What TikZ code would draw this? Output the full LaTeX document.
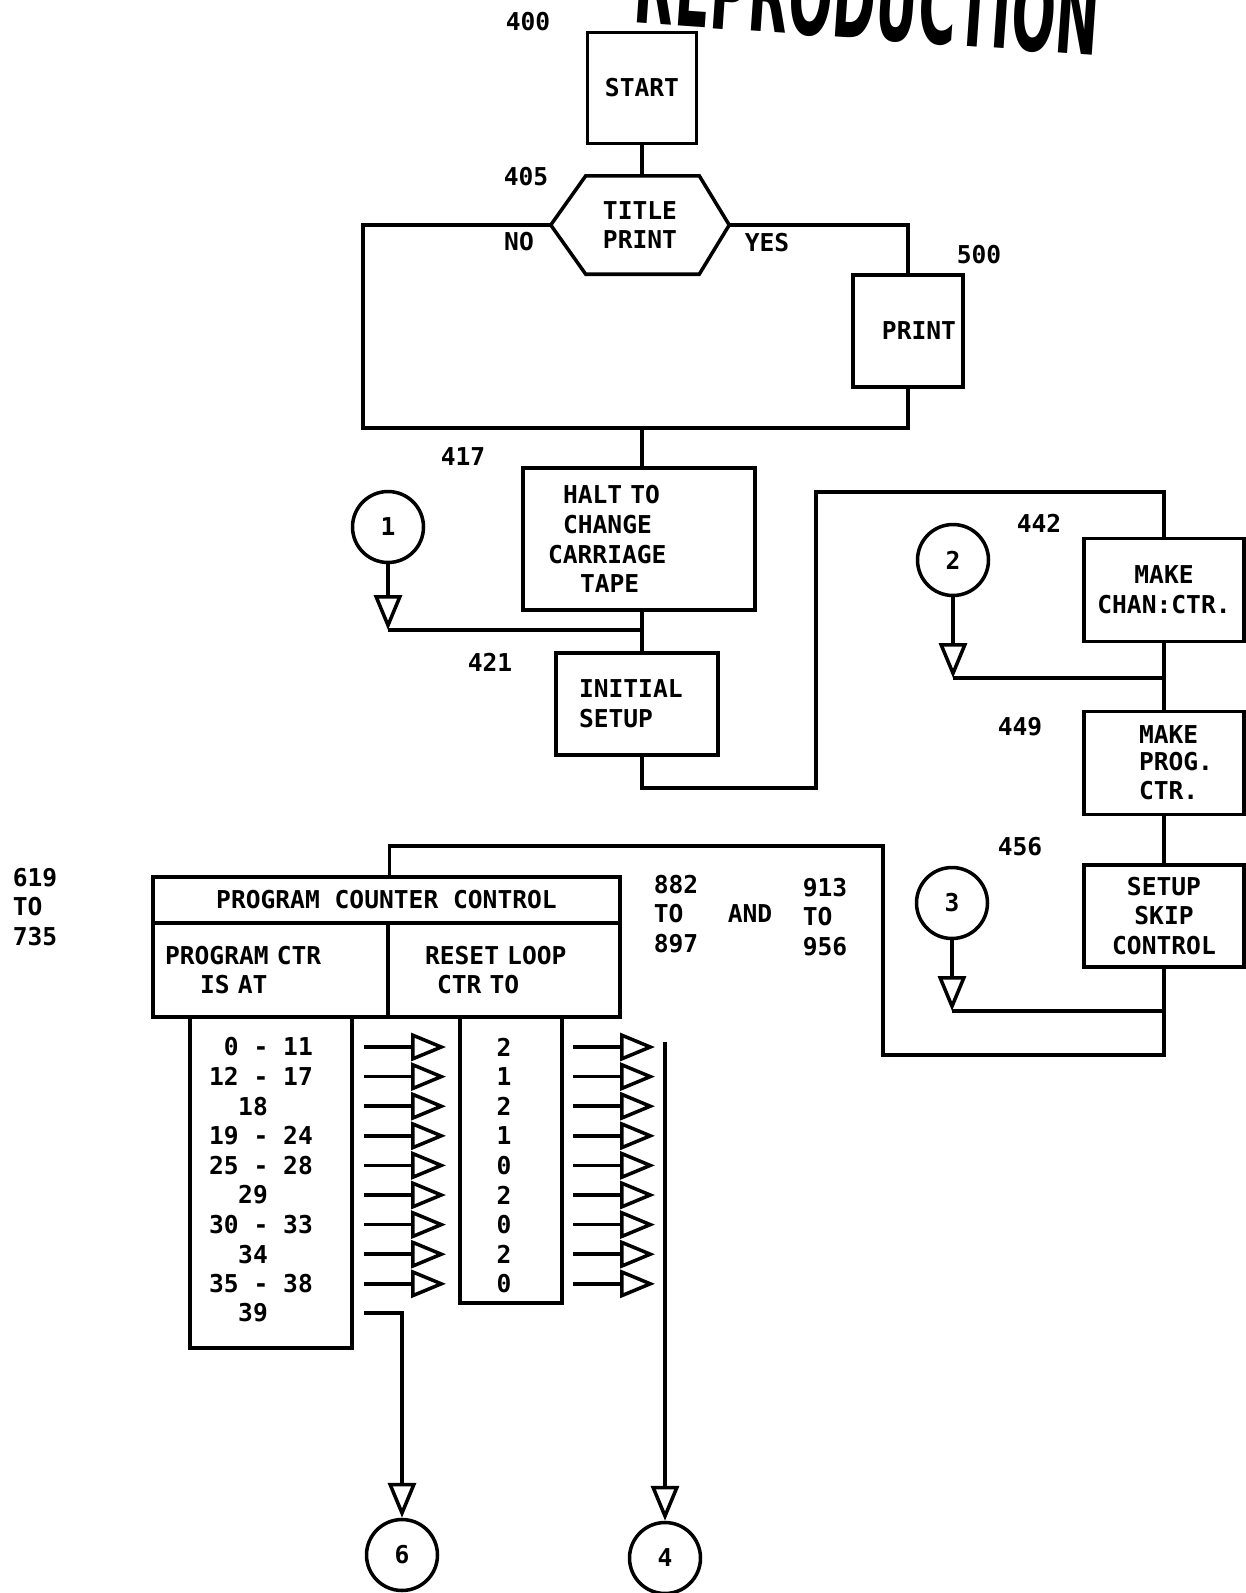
\documentclass[tikz,border=0pt]{standalone}
\usepackage{fontspec}
\usetikzlibrary{arrows.meta}
\newfontfamily\tyfont{DejaVu Sans Mono Bold}
\newfontfamily\stampfont{DejaVu Sans}
\newcommand{\ty}{\tyfont\fontsize{14pt}{17pt}\selectfont}

\begin{document}
\begin{tikzpicture}[x=0.02cm, y=-0.02cm, line width=2pt,
  box/.style={draw, rectangle, inner sep=0pt, align=center, font=\ty},
  conn/.style={draw, circle, inner sep=0pt, minimum size=1.42cm, font=\ty},
  txt/.style={inner sep=0pt, align=left, font=\ty},
  tip/.style={-{Triangle[open, length=0.7cm, width=0.56cm]}}]

\useasboundingbox (0,0) rectangle (1246,1593);
\fill[white] (0,0) rectangle (1246,1593);

% sello
\begin{scope}
\clip (0,0) rectangle (1246,1593);
\node[anchor=south west, inner sep=0pt, rotate=-4] (stamp) at (631,26)
  {\resizebox{9.3cm}{1.6cm}{\stampfont\bfseries REPRODUCTION}};
\end{scope}

% cajas
\node[box, minimum width=2.18cm, minimum height=2.22cm] (start) at (642,88) {START};
\node[minimum width=3.5cm, minimum height=1.9cm, inner sep=0pt, align=center, font=\ty] (title) at (640,225) {TITLE\\PRINT};
\draw (title.west) -- ([xshift=0.7cm]title.north west) -- ([xshift=-0.6cm]title.north east)
  -- (title.east) -- ([xshift=-0.6cm]title.south east) -- ([xshift=0.7cm]title.south west) -- cycle;
\node[box, minimum width=2.2cm, minimum height=2.24cm, text width=1.92cm, align=right] (print) at (908,331) {PRINT};
\node[box, minimum width=4.64cm, minimum height=2.84cm, text width=3.64cm, align=left] (halt) at (639,539)
  {\hspace*{0.3cm}HALT TO\\\hspace*{0.3cm}CHANGE\\CARRIAGE\\\hspace*{0.64cm}TAPE};
\node[box, minimum width=3.24cm, minimum height=2.04cm, text width=2.32cm, align=left] (init) at (637,704) {INITIAL\\SETUP};
\node[box, minimum width=3.2cm, minimum height=2.06cm] (chan) at (1164,590) {MAKE\\CHAN:CTR.};
\node[box, minimum width=3.2cm, minimum height=2.06cm, text width=2.8cm, align=left] (prog) at (1164,763)
  {\hspace*{0.9cm}MAKE\\[-2pt]\hspace*{0.9cm}PROG.\\\hspace*{0.9cm}CTR.};
\node[box, minimum width=3.2cm, minimum height=2.04cm] (setup) at (1164,916) {SETUP\\SKIP\\CONTROL};

% circulos
\node[conn] (c1) at (388,527) {1};
\node[conn] (c2) at (953,560) {2};
\node[conn] (c3) at (952,903) {3};
\node[conn] (c6) at (402,1555) {6};
\node[conn] (c4) at (665,1558) {4};

% tabla
\node[box, minimum width=9.34cm, minimum height=0.92cm] (pcc) at (386.5,900) {PROGRAM COUNTER CONTROL};
\node[box, minimum width=4.7cm, minimum height=1.88cm, text width=4.22cm, align=left] (pcat) at (270.5,970)
  {PROGRAM CTR\\\hspace*{0.7cm}IS AT};
\node[box, minimum width=4.64cm, minimum height=1.88cm, text width=3.16cm, align=left] (reset) at (504,970)
  {RESET LOOP\\\hspace*{0.24cm}CTR TO};
\draw (190,1017) |- (352,1348) -- (352,1017);
\draw (460,1017) |- (562,1303) -- (562,1017);

% numeros
\node[txt] at (528,22) {400};
\node[txt] at (526,177) {405};
\node[txt] at (519,242) {NO};
\node[txt] at (767,243) {YES};
\node[txt] at (979,255) {500};
\node[txt] at (463,457) {417};
\node[txt] at (490,662) {421};
\node[txt] at (1039,523) {442};
\node[txt] at (1020,727) {449};
\node[txt] at (1020,847) {456};
\node[txt, anchor=west] at (11,907) {619\\TO\\735};
\node[txt, anchor=west] at (652,914) {882\\TO\\897};
\node[txt] at (750,914) {AND};
\node[txt, anchor=west] at (801,917) {913\\TO\\956};

% lineas
\coordinate (j1) at (642,428);
\coordinate (m1) at (642,630);
\coordinate (m2) at (1164,678);
\coordinate (m3) at (1164,1011);
\draw (start.south) -- (start.south |- title.north);
\draw (title.west) -| (363,428) -| (print.south);
\draw (title.east) -| (print.north);
\draw (j1) -- (j1 |- halt.north);
\draw (halt.south -| j1) -- (j1 |- init.north);
\draw[tip] (c1) -- (c1 |- m1);
\draw (c1 |- m1) -- (m1);
\draw (init.south -| j1) |- (816,788) -- (816,492) -| (chan.north);
\draw (chan) -- (prog);
\draw (prog) -- (setup);
\draw[tip] (c2) -- (c2 |- m2);
\draw (c2 |- m2) -- (m2);
\draw[tip] (c3) -- (c3 |- m3);
\draw (c3 |- m3) -- (m3);
\draw (setup.south) |- (883,1055) -- (883,846) -| (pcc.north -| pcat.east);

% filas
\foreach \x/\rng/\val [count=\i from 0] in {261/\phantom{1}0 - 11/2, 261/12 - 17/1, 253/18/2,
    261/19 - 24/1, 261/25 - 28/0, 253/29/2, 261/30 - 33/0, 253/34/2, 261/35 - 38/0}{
  \node[txt] (r\i) at (\x,{1047+29.6*\i}) {\rng};
  \node[txt] (v\i) at (504,{1047+29.6*\i}) {\val};
  \coordinate (a\i) at (364,{1047+29.6*\i});
  \coordinate (e\i) at (446,{1047+29.6*\i});
  \coordinate (b\i) at (573,{1047+29.6*\i});
  \coordinate (f\i) at (655,{1047+29.6*\i});
  \draw[tip] (a\i) -- (e\i);
  \draw[tip] (b\i) -- (f\i);
}
\node[txt] (r9) at (253,1313) {39};
\coordinate (a9) at (364,1313);
\coordinate (top4) at (665,1042);
\draw[tip] (a9) -| (c6.north);
\draw[tip] (top4) -- (c4.north);
\end{tikzpicture}
\end{document}
